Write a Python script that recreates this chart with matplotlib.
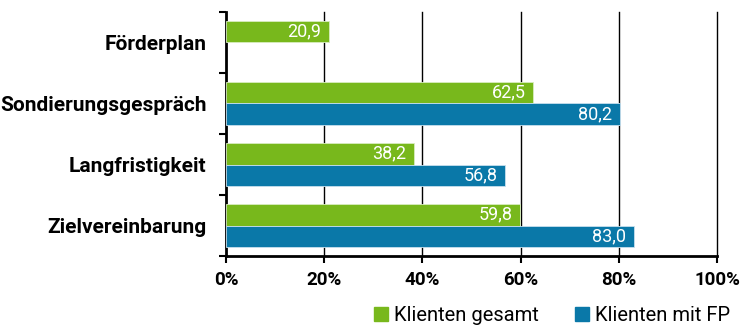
import numpy as np
import matplotlib.pyplot as plt
from matplotlib.ticker import FixedLocator

plt.rcParams['font.family'] = ['Roboto', 'DejaVu Sans']

categories = ['Förderplan', 'Sondierungsgespräch', 'Langfristigkeit', 'Zielvereinbarung']
gesamt = [20.9, 62.5, 38.2, 59.8]
mit_fp = [None, 80.2, 56.8, 83.0]
series_names = ['Klienten gesamt', 'Klienten mit FP']
green = '#78b81c'
blue = '#0a78a8'

fig = plt.figure(figsize=(7.45, 3.35), dpi=100)
ax = fig.add_axes([0.3034, 0.2358, 0.659, 0.7284])

y = np.arange(len(categories))
h = 0.36
for i, v in enumerate(gesamt):
    ax.barh(y[i] - h / 2, v, height=h, color=green, edgecolor='#d8ecc0', linewidth=0.6, zorder=3)
    ax.text(v - 1.5, y[i] - h / 2, f'{v:.1f}'.replace('.', ','), ha='right', va='center',
            color='white', fontsize=13, zorder=4)
for i, v in enumerate(mit_fp):
    if v is None:
        continue
    ax.barh(y[i] + h / 2, v, height=h, color=blue, edgecolor='#c8e0ee', linewidth=0.6, zorder=3)
    ax.text(v - 1.5, y[i] + h / 2, f'{v:.1f}'.replace('.', ','), ha='right', va='center',
            color='white', fontsize=13, zorder=4)

ax.set_xlim(0, 100)
ax.set_ylim(len(categories) - 0.5, -0.5)
ax.set_xticks([0, 20, 40, 60, 80, 100])
ax.set_xticklabels(['0%', '20%', '40%', '60%', '80%', '100%'], fontsize=13.5, fontweight='bold')
ax.set_yticks(y)
ax.set_yticklabels(categories, fontsize=15, fontweight='bold')
ax.yaxis.set_minor_locator(FixedLocator(np.arange(-0.5, len(categories), 1)))
ax.tick_params(axis='y', which='major', length=0, pad=14)
ax.tick_params(axis='y', which='minor', length=5, width=1.5, direction='out')
ax.tick_params(axis='x', length=5, width=1.5, pad=6)
for g in [20, 40, 60, 80, 100]:
    ax.axvline(g, color='black', linewidth=1, zorder=0, clip_on=False)
for s in ['top', 'right']:
    ax.spines[s].set_visible(False)
ax.spines['left'].set_linewidth(2)
ax.spines['bottom'].set_linewidth(2)

handles = [plt.Rectangle((0, 0), 1, 1, color=green), plt.Rectangle((0, 0), 1, 1, color=blue)]
fig.legend(handles, series_names, loc='lower right', bbox_to_anchor=(1.005, -0.025), ncol=2,
           frameon=False, fontsize=14.5, handlelength=0.7, handleheight=0.7,
           handletextpad=0.3, columnspacing=1.8)

fig.savefig('out.png', dpi=100)
